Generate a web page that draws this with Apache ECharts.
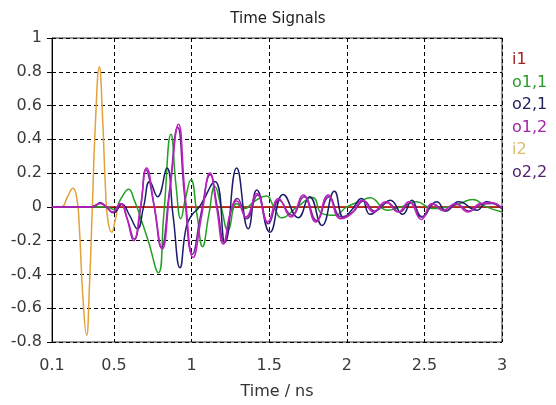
<!DOCTYPE html>
<html>
<head>
<meta charset="utf-8">
<script src="https://cdn.jsdelivr.net/npm/echarts@6/dist/echarts.min.js"></script>
<style>
html,body{margin:0;padding:0;background:#fff;}
#chart{width:556px;height:405px;}
</style>
</head>
<body>
<div id="chart"></div>
<script>
// ---- data (time in ns, amplitude) ----
const seriesNames = ['i1', 'o1,1', 'o2,1', 'o1,2', 'i2', 'o2,2'];
const xTickValues = [0.1, 0.5, 1, 1.5, 2, 2.5, 3];

const i1Data = [[0.1, 0], [3, 0]];

const i2Data = [
  [0.1, 0], [0.16, 0], [0.2, 0.06], [0.235, 0.11], [0.26, 0.05], [0.275, -0.1],
  [0.3, -0.55], [0.323, -0.76], [0.34, -0.5], [0.36, 0], [0.38, 0.5], [0.405, 0.83],
  [0.425, 0.55], [0.445, 0.1], [0.46, -0.08], [0.485, -0.15], [0.51, -0.07], [0.54, 0], [3, 0]
];

const o11Data = [
  [0.1, 0], [0.45, 0], [0.5, -0.015], [0.545, 0.05], [0.594, 0.105], [0.63, 0.04],
  [0.66, -0.035], [0.72, -0.2], [0.785, -0.39], [0.82, -0.05], [0.867, 0.43], [0.9, 0.12],
  [0.93, -0.07], [0.96, 0.05], [0.995, 0.16], [1.035, -0.05], [1.07, -0.235], [1.11, -0.05],
  [1.15, 0.12], [1.19, 0.0], [1.235, -0.14], [1.29, 0.02], [1.34, -0.01], [1.4, 0.03],
  [1.48, 0.064], [1.53, 0.0], [1.58, -0.065], [1.68, 0.0], [1.78, 0.055], [1.84, -0.04],
  [1.92, -0.05], [2.0, 0.0], [2.08, 0.03], [2.15, 0.054], [2.26, -0.02], [2.35, 0.0],
  [2.45, 0.03], [2.55, -0.01], [2.65, 0.0], [2.73, 0.02], [2.81, 0.044], [2.9, 0.0], [3, -0.03]
];

const o21Data = [
  [0.1, 0], [0.35, 0], [0.385, 0.01], [0.41, 0.025], [0.45, 0.0], [0.497, -0.035],
  [0.55, 0.015], [0.6, -0.05], [0.65, -0.13], [0.69, 0.0], [0.73, 0.15], [0.78, 0.06],
  [0.84, 0.23], [0.88, -0.05], [0.925, -0.36], [0.965, -0.12], [1.0, -0.05], [1.05, 0.0],
  [1.15, 0.15], [1.215, -0.21], [1.29, 0.23], [1.365, -0.13], [1.42, 0.10], [1.505, -0.15],
  [1.59, 0.074], [1.687, -0.064], [1.76, 0.06], [1.84, -0.11], [1.92, 0.093], [1.98, -0.064],
  [2.03, -0.02], [2.095, 0.05], [2.15, -0.044], [2.22, 0.0], [2.28, 0.04], [2.36, -0.044],
  [2.42, 0.04], [2.48, -0.06], [2.58, 0.03], [2.64, -0.025], [2.72, 0.03], [2.84, -0.02],
  [2.9, 0.03], [3, -0.01]
];

const o12Data = [
  [0.1, 0], [0.35, 0], [0.385, 0.01], [0.41, 0.02], [0.45, 0.0], [0.49, -0.03],
  [0.54, 0.02], [0.58, -0.06], [0.626, -0.20], [0.67, 0.0], [0.71, 0.23], [0.76, 0.0],
  [0.81, -0.25], [0.86, 0.1], [0.915, 0.49], [0.96, 0.05], [1.01, -0.30], [1.065, -0.05],
  [1.118, 0.20], [1.16, 0.0], [1.204, -0.22], [1.25, -0.03], [1.29, 0.035], [1.35, -0.06],
  [1.42, 0.08], [1.49, -0.09], [1.56, 0.05], [1.64, -0.06], [1.72, 0.07], [1.8, -0.09],
  [1.88, 0.07], [1.96, -0.07], [2.03, -0.04], [2.1, 0.04], [2.17, -0.03], [2.25, 0.03],
  [2.33, -0.03], [2.4, 0.03], [2.48, -0.074], [2.55, 0.02], [2.62, -0.02], [2.7, 0.02],
  [2.78, -0.03], [2.86, 0.02], [2.93, 0.025], [3, -0.005]
];

const o22Data = [
  [0.1, 0], [0.35, 0], [0.385, 0.012], [0.41, 0.022], [0.45, 0.0], [0.492, -0.032],
  [0.545, 0.018], [0.585, -0.07], [0.63, -0.19], [0.672, 0.0], [0.705, 0.22], [0.755, 0.02],
  [0.805, -0.24], [0.855, 0.08], [0.91, 0.47], [0.955, 0.06], [1.005, -0.28], [1.06, -0.04],
  [1.12, 0.19], [1.165, 0.0], [1.21, -0.21], [1.255, -0.02], [1.295, 0.05], [1.355, -0.07],
  [1.425, 0.07], [1.495, -0.1], [1.565, 0.04], [1.645, -0.05], [1.725, 0.06], [1.805, -0.08],
  [1.885, 0.06], [1.965, -0.06], [2.04, -0.03], [2.11, 0.035], [2.18, -0.025], [2.26, 0.025],
  [2.34, -0.03], [2.41, 0.025], [2.49, -0.06], [2.56, 0.015], [2.63, -0.025], [2.71, 0.015],
  [2.79, -0.025], [2.87, 0.015], [2.94, 0.02], [3, -0.01]
];

// ---- chart ----
const colors = {
  'i1': '#b01010', 'o1,1': '#23a023', 'o2,1': '#1c1c6e',
  'o1,2': '#c21fc2', 'i2': '#e3a13a', 'o2,2': '#6a2a8c'
};
const legendColors = {
  'i1': '#a02424', 'o1,1': '#2a9a2a', 'o2,1': '#22225e',
  'o1,2': '#a323a3', 'i2': '#dcbd6e', 'o2,2': '#55236e'
};
const dataByName = {
  'i1': i1Data, 'o1,1': o11Data, 'o2,1': o21Data,
  'o1,2': o12Data, 'i2': i2Data, 'o2,2': o22Data
};
const drawOrder = ['i2', 'i1', 'o1,1', 'o2,1', 'o2,2', 'o1,2'];

const FONT = 'DejaVu Sans';
const chart = echarts.init(document.getElementById('chart'), null, {renderer: 'canvas'});

chart.setOption({
  backgroundColor: '#ffffff',
  animation: false,
  textStyle: {fontFamily: FONT},
  title: {
    text: 'Time Signals', left: 'center', top: 7,
    textStyle: {fontFamily: FONT, fontSize: 15, fontWeight: 'normal', color: '#222'}
  },
  legend: {
    orient: 'vertical', left: 502, top: 47,
    itemWidth: 0, itemHeight: 16, itemGap: 6.5,
    selectedMode: false, icon: 'rect',
    data: seriesNames.map(n => ({
      name: n, itemStyle: {opacity: 0}, lineStyle: {opacity: 0},
      textStyle: {color: legendColors[n], fontSize: 16, fontFamily: FONT, lineHeight: 16}
    }))
  },
  grid: {
    left: 52, right: 54, top: 38, bottom: 62,
    show: true, borderColor: '#333', borderWidth: 1, backgroundColor: 'transparent'
  },
  xAxis: {
    type: 'value', min: 0.1, max: 3,
    name: 'Time / ns', nameLocation: 'middle', nameGap: 42,
    nameTextStyle: {fontFamily: FONT, fontSize: 16, color: '#333'},
    axisLine: {show: true, lineStyle: {color: '#000', width: 1}},
    axisTick: {show: true, inside: false, length: 5, lineStyle: {color: '#000'}, customValues: xTickValues},
    axisLabel: {customValues: xTickValues, margin: 16, fontFamily: FONT, fontSize: 16, color: '#3a3a3a',
      showMinLabel: true, showMaxLabel: true},
    splitLine: {show: true, lineStyle: {color: '#000', type: [4, 3], width: 1}}
  },
  yAxis: {
    type: 'value', min: -0.8, max: 1, interval: 0.2,
    axisLine: {show: true, lineStyle: {color: '#000', width: 1}},
    axisTick: {show: true, inside: false, length: 5, lineStyle: {color: '#000'}},
    axisLabel: {margin: 10, fontFamily: FONT, fontSize: 16, color: '#3a3a3a',
      formatter: v => String(Math.round(v * 10) / 10)},
    splitLine: {show: true, lineStyle: {color: '#000', type: [4, 3], width: 1}}
  },
  series: drawOrder.map(n => ({
    name: n, type: 'line', data: dataByName[n],
    showSymbol: false, symbol: 'none',
    smooth: 0.5,
    lineStyle: {color: colors[n], width: 1.5},
    itemStyle: {color: colors[n]}
  }))
});
</script>
</body>
</html>
